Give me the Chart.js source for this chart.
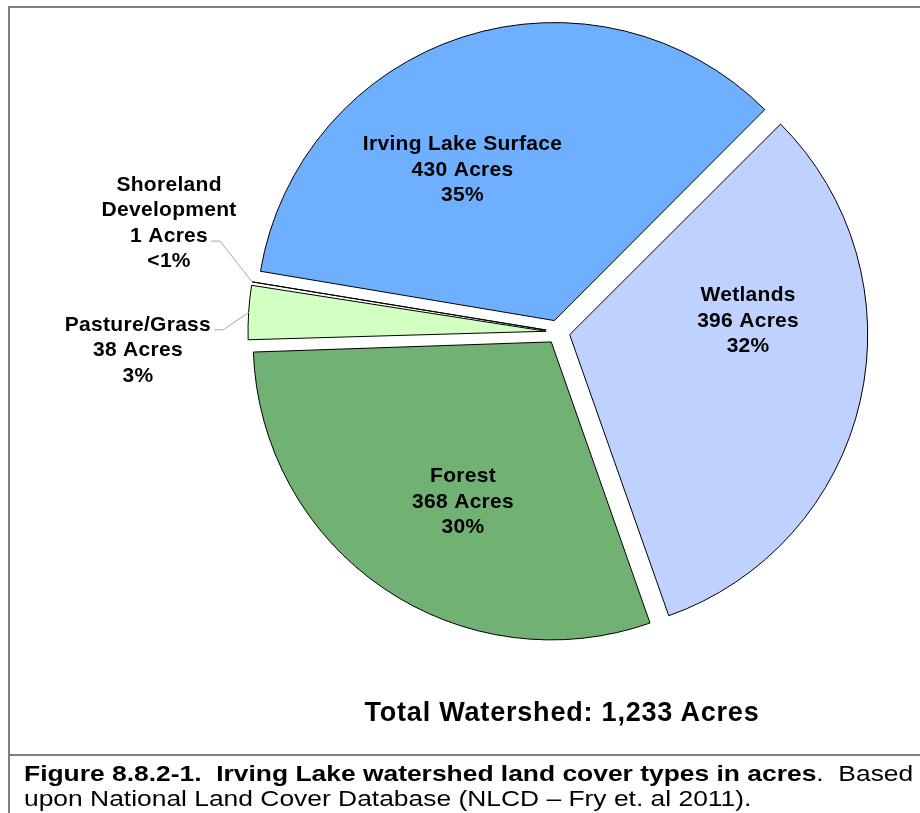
<!DOCTYPE html>
<html>
<head>
<meta charset="utf-8">
<title>Irving Lake watershed land cover</title>
<script src="https://cdn.jsdelivr.net/npm/chart.js@4.4.1/dist/chart.umd.min.js"></script>
<style>
  html, body { margin: 0; padding: 0; background: #fff; }
  body { width: 920px; height: 813px; position: relative; overflow: hidden; font-family: "Liberation Sans", Arial, sans-serif; }
  .frame { position: absolute; left: 8px; top: 6px; width: 930px; height: 750px; box-sizing: border-box;
           border-top: 2px solid #808080; border-left: 2px solid #808080; border-bottom: 2px solid #808080; }
  .caption-edge { position: absolute; left: 8px; top: 754px; width: 2px; height: 60px; background: #808080; }
  #pie { position: absolute; left: 0; top: 0; }
  .total { position: absolute; left: 0; top: 697px; width: 1124px; text-align: center; font-weight: bold; font-size: 27px; letter-spacing: 0.8px; }
  .caption { position: absolute; left: 24px; top: 761px; font-size: 22px; line-height: 25px; white-space: nowrap;
             transform-origin: left top; transform: scaleX(1.2); }
</style>
</head>
<body>
<div class="frame"></div>
<div class="caption-edge"></div>
<canvas id="pie" width="920" height="813"></canvas>
<div class="total">Total Watershed: 1,233 Acres</div>
<div class="caption"><b>Figure 8.8.2-1.&nbsp; Irving Lake watershed land cover types in acres</b>.&nbsp; Based<br>upon National Land Cover Database (NLCD – Fry et. al 2011).</div>

<script>
// data, in drawing order (clockwise from the rotation start)
const labels = ['Wetlands', 'Forest', 'Pasture/Grass', ['Shoreland', 'Development'], 'Irving Lake Surface'];
const acres = [396, 368, 38, 1, 430];
const colors = ['#BFD1FF', '#72B174', '#D2FFC2', '#3A3A3A', '#6FAFFF'];

// where each label block sits: angle (deg, clockwise from top) and distance in radii
const labelAngle = [86.7, 209.2, 267.5, 285.6, 329.5];
const labelDist = [0.639, 0.653, 1.411, 1.355, 0.631];
// which text row gets a leader line (-1 = none)
const leaderRow = [-1, -1, 0, 2, -1];

const total = acres.reduce((a, b) => a + b, 0);

// keep exploded slices the same radius (chart.js grows thin slices by the offset)
const sliceLabels = {
  id: 'sliceLabels',
  beforeDatasetsDraw(chart) {
    const meta = chart.getDatasetMeta(0);
    const R = meta.controller.outerRadius;
    meta.data.forEach(arc => {
      const off = (arc.options.offset || 0) / 4;
      const circ = arc.endAngle - arc.startAngle;
      arc.outerRadius = R - off * (1 - Math.sin(Math.min(Math.PI, circ)));
    });
  },
  afterDatasetsDraw(chart) {
    const ctx = chart.ctx;
    const meta = chart.getDatasetMeta(0);
    const R = meta.controller.outerRadius;
    const lh = 25.5;
    ctx.save();
    ctx.font = 'bold 21px "Liberation Sans", Arial, sans-serif';
    ctx.letterSpacing = '0.3px';
    ctx.textAlign = 'center';
    ctx.textBaseline = 'middle';
    meta.data.forEach((arc, i) => {
      const pct = acres[i] / total * 100;
      const lines = [].concat(labels[i], acres[i] + ' Acres', pct < 1 ? '<1%' : Math.round(pct) + '%');
      const a = labelAngle[i] * Math.PI / 180;
      const cx = arc.x + Math.sin(a) * labelDist[i] * R;
      const cy = arc.y - Math.cos(a) * labelDist[i] * R;
      const y0 = cy - (lines.length - 1) * lh / 2;
      ctx.fillStyle = '#000';
      lines.forEach((t, k) => ctx.fillText(t, cx, y0 + k * lh));

      if (leaderRow[i] >= 0) {
        const w = ctx.measureText(lines[leaderRow[i]]).width;
        const ly = y0 + leaderRow[i] * lh + 5;
        const x1 = cx + w / 2 + 3;
        const mid = (arc.startAngle + arc.endAngle) / 2;
        const off = (arc.options.offset || 0) / 4;
        const ex = arc.x + Math.cos(mid) * (R + off);
        const ey = arc.y + Math.sin(mid) * (R + off);
        ctx.beginPath();
        ctx.moveTo(x1, ly);
        ctx.lineTo(x1 + 9, ly);
        ctx.lineTo(ex, ey);
        ctx.strokeStyle = '#A6A6A6';
        ctx.lineWidth = 1;
        ctx.stroke();
      }
    });
    ctx.restore();
  }
};

new Chart(document.getElementById('pie'), {
  type: 'pie',
  data: {
    labels: labels,
    datasets: [{
      data: acres,
      backgroundColor: colors,
      borderColor: '#000',
      borderWidth: 1,
      offset: 48,
    }],
  },
  options: {
    responsive: false,
    animation: false,
    events: [],
    rotation: 45,
    radius: 298,
    layout: { padding: { left: 196, right: 0, top: 0, bottom: 149 } },
    plugins: {
      legend: { display: false },
      tooltip: { enabled: false },
    },
  },
  plugins: [sliceLabels],
});
</script>
</body>
</html>
